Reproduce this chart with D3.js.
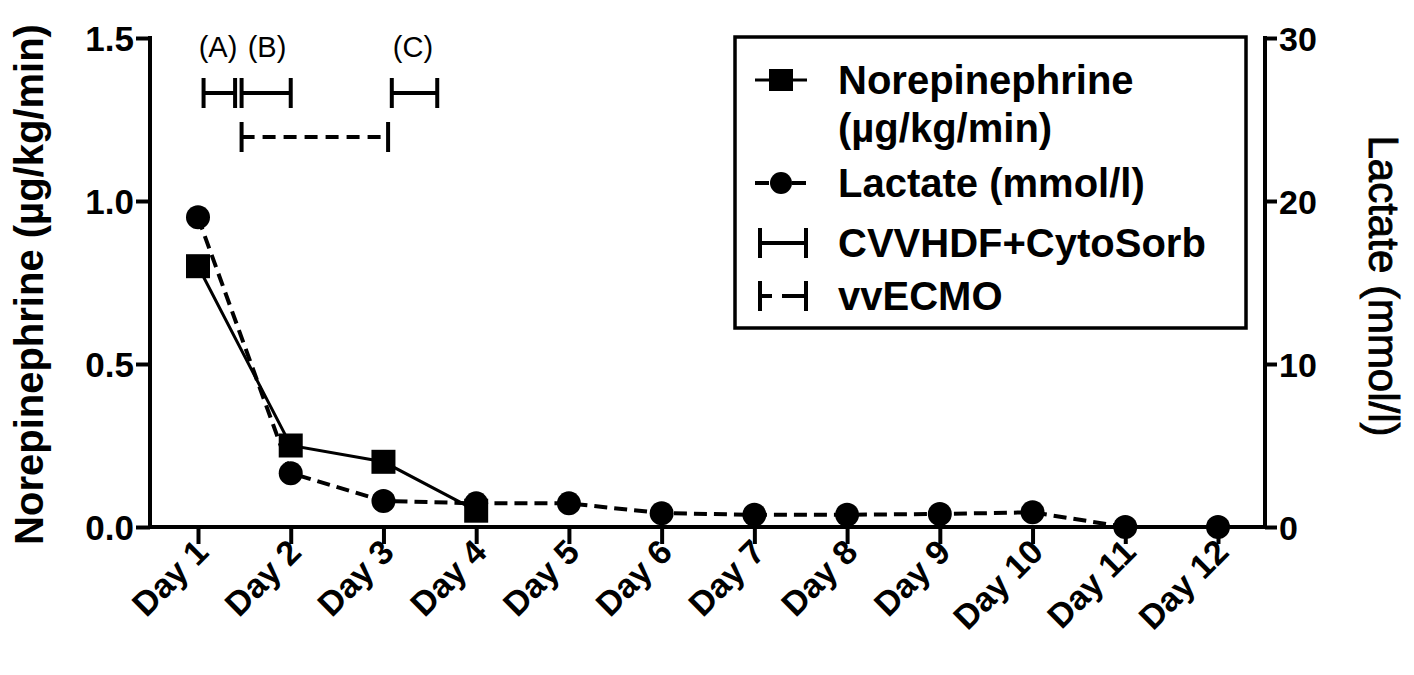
<!DOCTYPE html>
<html>
<head>
<meta charset="utf-8">
<script src="https://cdn.jsdelivr.net/npm/d3@7"></script>
<style>
  html, body { margin: 0; padding: 0; background: #fff; }
  svg { display: block; font-family: "Liberation Sans", Arial, sans-serif; }
</style>
</head>
<body>
<svg id="chart" width="1414" height="675"></svg>
<script>
// ---- data ----
const days = ["Day 1","Day 2","Day 3","Day 4","Day 5","Day 6","Day 7","Day 8","Day 9","Day 10","Day 11","Day 12"];
const norepinephrine = [0.8, 0.25, 0.2, 0.05];            // µg/kg/min, Day 1-4
const lactate = [19, 3.3, 1.6, 1.45, 1.45, 0.85, 0.75, 0.75, 0.8, 0.9, 0, 0]; // mmol/l
const leftTicks = [0, 0.5, 1.0, 1.5];
const rightTicks = [0, 10, 20, 30];
const cytoLabels = ["(A)", "(B)", "(C)"];
const cytoStart = [1.06, 1.47, 3.09];   // in day units
const cytoEnd   = [1.40, 2.00, 3.58];
const ecmoStart = [1.47];
const ecmoEnd   = [3.05];
const legendLabels = [["Norepinephrine", "(µg/kg/min)"], ["Lactate (mmol/l)"], ["CVVHDF+CytoSorb"], ["vvECMO"]];

// ---- layout ----
const svg = d3.select("#chart");
const X0 = 150, X1 = 1265, Y0 = 527, Y1 = 38;
const x = d3.scaleLinear().domain([1, 12]).range([198, 1218]);
const yL = d3.scaleLinear().domain([0, 1.5]).range([Y0, Y1]);
const yR = d3.scaleLinear().domain([0, 30]).range([Y0, Y1]);
const AX = 4;
const FF = "Liberation Sans, Arial, sans-serif";

// left axis
const gL = svg.append("g").attr("transform", `translate(${X0},0)`)
  .call(d3.axisLeft(yL).tickValues(leftTicks).tickFormat(d3.format(".1f")).tickSize(14).tickSizeOuter(0).tickPadding(2));
gL.select(".domain").attr("stroke-width", AX).attr("d", `M0,${Y0 + 2}V${Y1 - 2}`);
gL.selectAll(".tick line").attr("stroke-width", AX);
gL.selectAll(".tick text").attr("font-size", 35).attr("font-weight", "bold").attr("fill", "#000")
  .attr("font-family", FF).attr("dy", "0.36em");

// right axis
const gR = svg.append("g").attr("transform", `translate(${X1},0)`)
  .call(d3.axisRight(yR).tickValues(rightTicks).tickSize(12).tickSizeOuter(0).tickPadding(2));
gR.select(".domain").attr("stroke-width", AX).attr("d", `M0,${Y0 + 2}V${Y1 - 2}`);
gR.selectAll(".tick line").attr("stroke-width", AX);
gR.selectAll(".tick text").attr("font-size", 34).attr("font-weight", "bold").attr("fill", "#000")
  .attr("font-family", FF).attr("dy", "0.36em");

// bottom axis
svg.append("line").attr("x1", X0 - 2).attr("x2", X1 + 2).attr("y1", Y0).attr("y2", Y0)
  .attr("stroke", "#000").attr("stroke-width", AX);
const gB = svg.append("g").attr("transform", `translate(0,${Y0})`)
  .call(d3.axisBottom(x).tickValues(d3.range(1, 13)).tickFormat(i => days[i - 1]).tickSize(17).tickSizeOuter(0));
gB.select(".domain").remove();
gB.selectAll(".tick line").attr("stroke-width", AX);
gB.selectAll(".tick text").attr("font-size", 34).attr("font-weight", "bold").attr("fill", "#000")
  .attr("font-family", FF)
  .attr("text-anchor", "end").attr("dy", null).attr("y", null)
  .attr("transform", "translate(12,27) rotate(-45)");

// axis titles
svg.append("text").attr("transform", `translate(43,${(Y0 + Y1) / 2 + 2}) rotate(-90)`)
  .attr("text-anchor", "middle").attr("font-size", 40).attr("font-weight", "bold")
  .text("Norepinephrine (µg/kg/min)");
svg.append("text").attr("transform", `translate(1369,${286}) rotate(90)`)
  .attr("text-anchor", "middle").attr("font-size", 42)
  .attr("stroke", "#000").attr("stroke-width", 0.9)
  .text("Lactate (mmol/l)");

// lines
const lineN = d3.line().x((d, i) => x(i + 1)).y(d => yL(d));
const lineL = d3.line().x((d, i) => x(i + 1)).y(d => yR(d));
svg.append("path").datum(norepinephrine).attr("d", lineN)
  .attr("fill", "none").attr("stroke", "#000").attr("stroke-width", 3);
svg.append("path").datum(lactate).attr("d", lineL)
  .attr("fill", "none").attr("stroke", "#000").attr("stroke-width", 4).attr("stroke-dasharray", "13,7");

const SQ = 24, R = 12;
svg.append("g").selectAll("rect").data(norepinephrine).join("rect")
  .attr("x", (d, i) => x(i + 1) - SQ / 2).attr("y", d => yL(d) - SQ / 2)
  .attr("width", SQ).attr("height", SQ).attr("fill", "#000");
svg.append("g").selectAll("circle").data(lactate).join("circle")
  .attr("cx", (d, i) => x(i + 1)).attr("cy", d => yR(d)).attr("r", R).attr("fill", "#000");

// intervention bars
const barY = 93, ecmoY = 137, capH = 15;
function interval(g, x1, x2, yy, dashed) {
  g.append("line").attr("x1", x1).attr("x2", x2).attr("y1", yy).attr("y2", yy)
    .attr("stroke", "#000").attr("stroke-width", 4).attr("stroke-dasharray", dashed ? "13,8" : null);
  [x1, x2].forEach(xx => g.append("line").attr("x1", xx).attr("x2", xx)
    .attr("y1", yy - capH).attr("y2", yy + capH).attr("stroke", "#000").attr("stroke-width", 4));
}
const gI = svg.append("g");
cytoStart.forEach((s, i) => {
  interval(gI, x(s), x(cytoEnd[i]), barY, false);
});
ecmoStart.forEach((s, i) => interval(gI, x(s), x(ecmoEnd[i]), ecmoY, true));
const labelX = [218, 267, 413];
cytoLabels.forEach((t, i) => {
  gI.append("text").attr("x", labelX[i]).attr("y", 57).attr("text-anchor", "middle")
    .attr("font-size", 29).text(t);
});

// legend
const lg = svg.append("g");
lg.append("rect").attr("x", 735).attr("y", 37).attr("width", 511).attr("height", 291)
  .attr("fill", "none").attr("stroke", "#000").attr("stroke-width", 3.5);
const symX1 = 755, symX2 = 807, symC = 781, textX = 838, LF = 40;
// Norepinephrine
lg.append("line").attr("x1", symX1).attr("x2", symX2).attr("y1", 80).attr("y2", 80).attr("stroke", "#000").attr("stroke-width", 3);
lg.append("rect").attr("x", symC - 12).attr("y", 80 - 11).attr("width", 24).attr("height", 22).attr("fill", "#000");
lg.append("text").attr("x", textX).attr("y", 94).attr("font-size", LF).attr("font-weight", "bold").text(legendLabels[0][0]);
lg.append("text").attr("x", textX).attr("y", 142).attr("font-size", LF).attr("font-weight", "bold").text(legendLabels[0][1]);
// Lactate
lg.append("line").attr("x1", symX1).attr("x2", symX2).attr("y1", 183).attr("y2", 183).attr("stroke", "#000").attr("stroke-width", 4).attr("stroke-dasharray", "14,5,12,6");
lg.append("circle").attr("cx", symC).attr("cy", 183).attr("r", 11).attr("fill", "#000");
lg.append("text").attr("x", textX).attr("y", 197).attr("font-size", LF).attr("font-weight", "bold").text(legendLabels[1][0]);
// CVVHDF
interval(lg, 760, 806, 243, false);
lg.append("text").attr("x", textX).attr("y", 257).attr("font-size", LF).attr("font-weight", "bold").text(legendLabels[2][0]);
// vvECMO
lg.append("line").attr("x1", 760).attr("x2", 806).attr("y1", 296).attr("y2", 296).attr("stroke", "#000").attr("stroke-width", 4).attr("stroke-dasharray", "12,10,24");
[760, 806].forEach(xx => lg.append("line").attr("x1", xx).attr("x2", xx).attr("y1", 281).attr("y2", 311).attr("stroke", "#000").attr("stroke-width", 4));
lg.append("text").attr("x", textX).attr("y", 310).attr("font-size", LF).attr("font-weight", "bold").text(legendLabels[3][0]);
</script>
</body>
</html>
